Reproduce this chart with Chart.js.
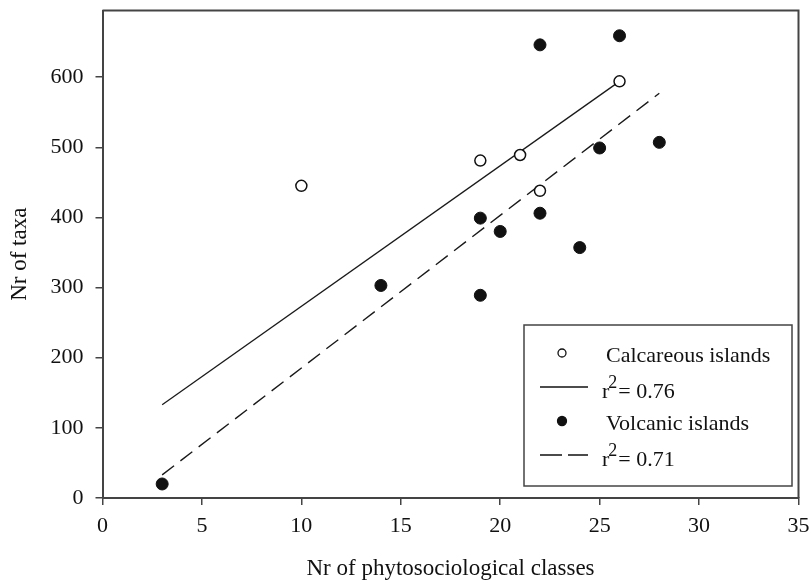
<!DOCTYPE html>
<html>
<head>
<meta charset="utf-8">
<script src="https://cdn.jsdelivr.net/npm/chart.js@4.4.0/dist/chart.umd.min.js"></script>
<style>
  html, body { margin: 0; padding: 0; background: #fff; }
  #wrap { width: 811px; height: 585px; }
</style>
</head>
<body>
<div id="wrap"><canvas id="chart" width="811" height="585"></canvas></div>
<script>
// Number of taxa vs number of phytosociological classes per island

const calcClasses = [10, 19, 21, 22, 26];
const calcTaxa = [445, 481, 489, 438, 594];

const volcClasses = [3, 14, 19, 19, 20, 22, 22, 24, 25, 26, 28];
const volcTaxa = [20, 303, 289, 399, 380, 406, 646, 357, 499, 659, 507];

// regression line end points
const calcFitX = [3, 26];
const calcFitY = [133, 594];
const volcFitX = [3, 28];
const volcFitY = [33, 577];

const xTicks = [0, 5, 10, 15, 20, 25, 30, 35];
const yTicks = [0, 100, 200, 300, 400, 500, 600];
const xTitle = 'Nr of phytosociological classes';
const yTitle = 'Nr of taxa';
const seriesNames = ['Calcareous islands', 'Volcanic islands'];
const rSquared = ['0.76', '0.71'];

const FONT = "'Liberation Serif', 'Times New Roman', serif";
const INK = '#111';

function toPoints(xs, ys) {
    return xs.map((x, i) => ({ x: x, y: ys[i] }));
}

// drop the label overhang so the plot box is set by layout padding only
function noOverhang(s) {
    s.paddingTop = 0;
    s.paddingBottom = 0;
    s.paddingLeft = 0;
    s.paddingRight = 0;
}

// Frame on top/right of the plot area
const frame = {
    id: 'frame',
    beforeDatasetsDraw(chart) {
        const { ctx, chartArea: a } = chart;
        ctx.save();
        ctx.strokeStyle = '#444';
        ctx.lineWidth = 2;
        ctx.beginPath();
        ctx.moveTo(a.left, a.top);
        ctx.lineTo(a.right, a.top);
        ctx.lineTo(a.right, a.bottom);
        ctx.stroke();
        ctx.restore();
    }
};

// Boxed legend in the lower right corner
const boxLegend = {
    id: 'boxLegend',
    afterDatasetsDraw(chart, args, opts) {
        const { ctx, chartArea: a } = chart;
        const x0 = a.right - opts.marginRight - opts.width;
        const y0 = a.bottom - opts.marginBottom - opts.height;
        ctx.save();
        ctx.fillStyle = '#fff';
        ctx.fillRect(x0, y0, opts.width, opts.height);
        ctx.strokeStyle = '#444';
        ctx.lineWidth = 1.5;
        ctx.strokeRect(x0, y0, opts.width, opts.height);

        chart.data.datasets.forEach((ds, i) => {
            const cy = y0 + opts.firstRow + i * opts.rowGap;
            const cx = x0 + opts.symbolX;
            ctx.fillStyle = INK;
            ctx.strokeStyle = INK;
            if (ds.showLine) {
                ctx.lineWidth = 1.3;
                ctx.setLineDash(ds.borderDash && ds.borderDash.length ? [22, 6] : []);
                ctx.beginPath();
                ctx.moveTo(cx - 22, cy);
                ctx.lineTo(cx + 26, cy);
                ctx.stroke();
                ctx.setLineDash([]);
                // r² label with superscript
                const base = cy + 11;
                let tx = x0 + opts.textX;
                ctx.font = '22px ' + FONT;
                ctx.textBaseline = 'alphabetic';
                ctx.textAlign = 'left';
                ctx.fillText('r', tx, base);
                tx += ctx.measureText('r').width - 1;
                ctx.font = '18px ' + FONT;
                ctx.fillText('2', tx, base - 10);
                tx += ctx.measureText('2').width + 1;
                ctx.font = '22px ' + FONT;
                ctx.fillText('= ' + ds.r2, tx, base);
            } else {
                ctx.beginPath();
                ctx.arc(cx, cy, ds.legendRadius, 0, Math.PI * 2);
                ctx.fillStyle = ds.backgroundColor;
                ctx.fill();
                ctx.lineWidth = 1.3;
                ctx.stroke();
                ctx.fillStyle = INK;
                ctx.font = '22px ' + FONT;
                ctx.textBaseline = 'alphabetic';
                ctx.textAlign = 'left';
                ctx.fillText(ds.label, x0 + opts.textX + 4, cy + 9);
            }
        });
        ctx.restore();
    }
};

const chart = new Chart(document.getElementById('chart'), {
    type: 'scatter',
    data: {
        datasets: [
            {
                label: seriesNames[0],
                data: toPoints(calcClasses, calcTaxa),
                backgroundColor: '#fff',
                borderColor: INK,
                borderWidth: 1.5,
                pointRadius: 5.5,
                legendRadius: 4
            },
            {
                label: 'r2 = ' + rSquared[0],
                r2: rSquared[0],
                data: toPoints(calcFitX, calcFitY),
                showLine: true,
                borderColor: '#1a1a1a',
                borderWidth: 1.3,
                pointRadius: 0
            },
            {
                label: seriesNames[1],
                data: toPoints(volcClasses, volcTaxa),
                backgroundColor: INK,
                borderColor: INK,
                borderWidth: 1,
                pointRadius: 6,
                legendRadius: 4.5
            },
            {
                label: 'r2 = ' + rSquared[1],
                r2: rSquared[1],
                data: toPoints(volcFitX, volcFitY),
                showLine: true,
                borderColor: '#1a1a1a',
                borderWidth: 1.4,
                borderDash: [15, 8],
                pointRadius: 0
            }
        ]
    },
    options: {
        responsive: false,
        animation: false,
        layout: { padding: { top: 10.5, right: 12.5, left: 0, bottom: 0 } },
        plugins: {
            legend: { display: false },
            tooltip: { enabled: false },
            boxLegend: {
                width: 268, height: 161,
                marginRight: 6.5, marginBottom: 12,
                symbolX: 38, textX: 78,
                firstRow: 28, rowGap: 34
            }
        },
        scales: {
            x: {
                type: 'linear',
                min: 0,
                max: 35,
                afterFit: s => { s.height = 87; noOverhang(s); },
                afterBuildTicks: s => { s.ticks = xTicks.map(v => ({ value: v })); },
                grid: { display: true, drawOnChartArea: false, drawTicks: true, tickLength: 7, color: '#444', lineWidth: 1.5 },
                border: { display: true, color: '#444', width: 2 },
                ticks: { color: INK, padding: 8, font: { family: FONT, size: 22 }, maxRotation: 0 },
                title: { display: true, text: xTitle, color: INK, font: { family: FONT, size: 23 }, padding: { top: 0, bottom: 2 } }
            },
            y: {
                type: 'linear',
                min: 0,
                max: 695,
                afterFit: s => { s.width = 102.5; noOverhang(s); },
                afterBuildTicks: s => { s.ticks = yTicks.map(v => ({ value: v })); },
                grid: { display: true, drawOnChartArea: false, drawTicks: true, tickLength: 7, color: '#444', lineWidth: 1.5 },
                border: { display: true, color: '#444', width: 2 },
                ticks: { color: INK, padding: 12, font: { family: FONT, size: 22 } },
                title: { display: true, text: yTitle, color: INK, font: { family: FONT, size: 23 }, padding: { top: 6, bottom: 0 } }
            }
        }
    },
    plugins: [frame, boxLegend]
});
</script>
</body>
</html>
